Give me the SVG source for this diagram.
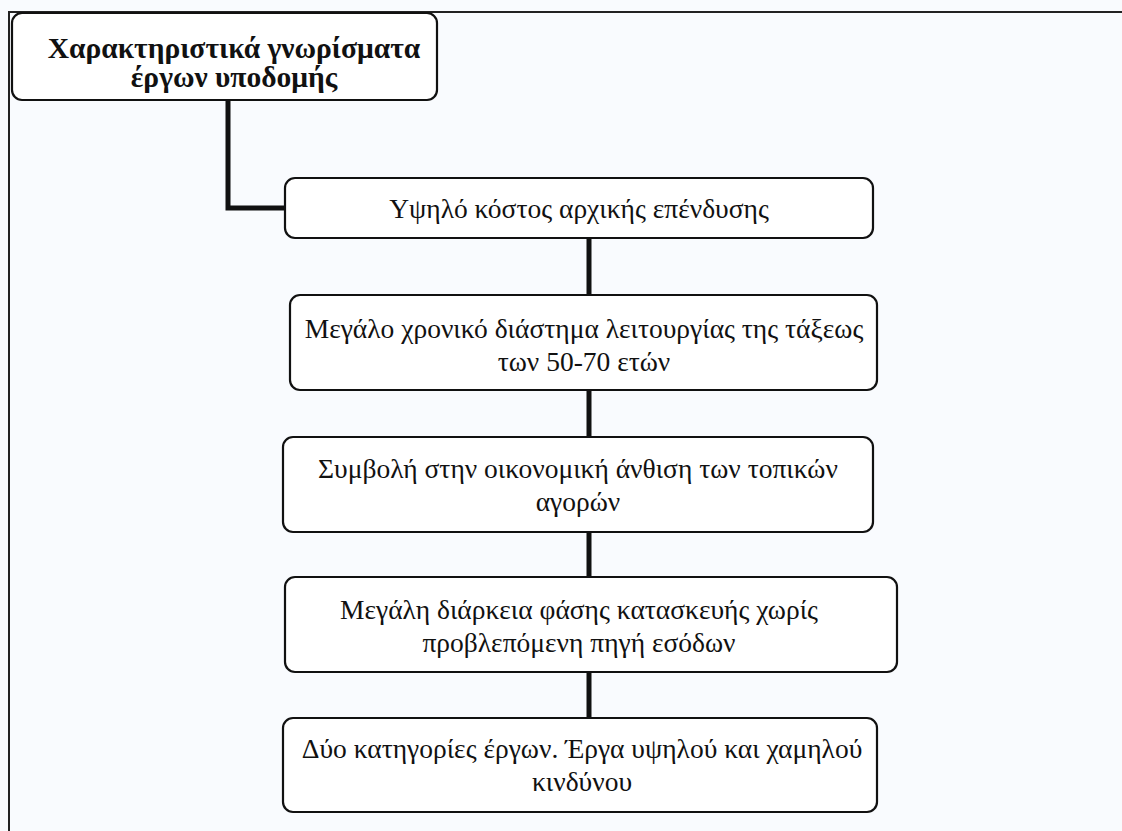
<svg xmlns="http://www.w3.org/2000/svg" width="1122" height="831" viewBox="0 0 1122 831">
<style>
.box{fill:#ffffff;stroke:#111;stroke-width:2.2}
.t{font-family:"Liberation Serif","Times New Roman",serif;font-size:27.5px;fill:#111;text-anchor:middle}
.tb{font-family:"Liberation Serif","Times New Roman",serif;font-size:29.5px;font-weight:bold;fill:#111;text-anchor:middle}
.conn{fill:none;stroke:#111;stroke-width:5}
.frame{fill:none;stroke:#222;stroke-width:2}
</style>
<rect x="0" y="0" width="1122" height="831" fill="#f9fbfe"/>
<g id="frame">
<path class="frame" d="M9,831 V12 H1122"/>
</g>
<g id="connectors">
<path class="conn" d="M228,100 V208 H285"/>
<path class="conn" d="M589,238 V295"/>
<path class="conn" d="M589,390 V437"/>
<path class="conn" d="M589,532 V577"/>
<path class="conn" d="M589,672 V718"/>
</g>
<g id="n0">
<rect class="box" x="12" y="13" width="425" height="87" rx="10"/>
<text class="tb" x="234" y="58">Χαρακτηριστικά γνωρίσματα</text>
<text class="tb" x="234" y="87">έργων υποδομής</text>
</g>
<g id="n1">
<rect class="box" x="285" y="178" width="588" height="60" rx="10"/>
<text class="t" x="579" y="218">Υψηλό κόστος αρχικής επένδυσης</text>
</g>
<g id="n2">
<rect class="box" x="290" y="295" width="587" height="95" rx="10"/>
<text class="t" x="584" y="338">Μεγάλο χρονικό διάστημα λειτουργίας της τάξεως</text>
<text class="t" x="584" y="371">των 50-70 ετών</text>
</g>
<g id="n3">
<rect class="box" x="283" y="437" width="590" height="95" rx="10"/>
<text class="t" x="578" y="478">Συμβολή στην οικονομική άνθιση των τοπικών</text>
<text class="t" x="578" y="511">αγορών</text>
</g>
<g id="n4">
<rect class="box" x="285" y="577" width="612" height="95" rx="10"/>
<text class="t" x="579" y="619">Μεγάλη διάρκεια φάσης κατασκευής χωρίς</text>
<text class="t" x="579" y="652">προβλεπόμενη πηγή εσόδων</text>
</g>
<g id="n5">
<rect class="box" x="283" y="718" width="594" height="94" rx="10"/>
<text class="t" x="582" y="758">Δύο κατηγορίες έργων. Έργα υψηλού και χαμηλού</text>
<text class="t" x="582" y="791">κινδύνου</text>
</g>
</svg>
